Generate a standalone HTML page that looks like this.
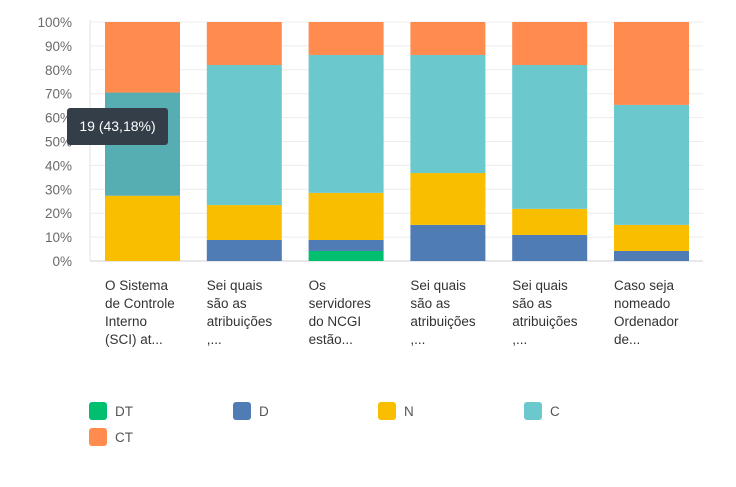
<!DOCTYPE html>
<html><head><meta charset="utf-8"><style>
body{margin:0;background:#fff;font-family:"Liberation Sans",sans-serif;}
svg text{font-family:"Liberation Sans",sans-serif;}
</style></head><body>
<svg id="chart" width="736" height="482"></svg>
<script>
const categories=[["O Sistema","de Controle","Interno","(SCI) at..."],["Sei quais","são as","atribuições",",..."],["Os","servidores","do NCGI","estão..."],["Sei quais","são as","atribuições",",..."],["Sei quais","são as","atribuições",",..."],["Caso seja","nomeado","Ordenador","de..."]];
const seriesNames=["DT","D","N","C","CT"];
const dtValues=[0,0,4.2,0,0,0];
const dValues=[0,8.8,4.6,15.1,10.9,4.2];
const nValues=[27.3,14.6,19.7,21.7,10.9,10.9];
const cValues=[43.18,58.6,57.7,49.4,60.2,50.2];
const ctValues=[29.52,18,13.8,13.8,18,34.7];
const yTicks=[0,10,20,30,40,50,60,70,80,90,100];
const colors=["#00bf6f","#507cb6","#f9be00","#6bc8cd","#ff8b4f"];
const NS="http://www.w3.org/2000/svg";
const svg=document.getElementById("chart");
function y(v){return 261-v*2.39;}
function x(i){return 105+i*101.8;}
function mk(t,a,p){const e=document.createElementNS(NS,t);for(const k in a)e.setAttribute(k,a[k]);(p||svg).appendChild(e);return e;}
yTicks.forEach(t=>{
  const g=mk("line",{x1:90,x2:703,y1:y(t),y2:y(t),stroke:t===0?"#d0d0d0":"#ececec","stroke-width":1});
  
  
  const l=mk("text",{x:72,y:y(t)+5,"text-anchor":"end","font-size":13.5,fill:"#6a6a6a"});
  l.textContent=t+"%";
  
  
});
const ax=mk("line",{x1:90,x2:90,y1:20,y2:261,stroke:"#e0e0e0"});


const series=[dtValues,dValues,nValues,cValues,ctValues];
categories.forEach((c,i)=>{
  let base=0;
  series.forEach((s,k)=>{
    const v=s[i];
    if(v>0){
      let col=colors[k];
      if(i===0&&k===3)col="#56aeb2";
      const r=mk("rect",{x:x(i),y:y(base+v),width:75,height:v*2.39,fill:col});
      
      
    }
    base+=v;
  });
  c.forEach((line,j)=>{
    const t=mk("text",{x:x(i),y:290+j*18,"font-size":13.5,fill:"#333"});
    t.textContent=line;
    
    
  });
});
// tooltip
const tg=mk("g",{});


mk("rect",{x:67,y:108,width:101,height:37,rx:3,fill:"#333e48"},tg);
const tt=mk("text",{x:117.5,y:131,"text-anchor":"middle","font-size":14,fill:"#fff"},tg);
tt.textContent="19 (43,18%)";
// legend
const lx=[89,233,378,524,89],ly=[402,402,402,402,428];
seriesNames.forEach((n,k)=>{
  const g=mk("g",{});
  
  
  mk("rect",{x:lx[k],y:ly[k],width:18,height:18,rx:3,fill:colors[k]},g);
  const t=mk("text",{x:lx[k]+26,y:ly[k]+14,"font-size":13.5,fill:"#555"},g);
  t.textContent=n;
});
</script>
</body></html>
